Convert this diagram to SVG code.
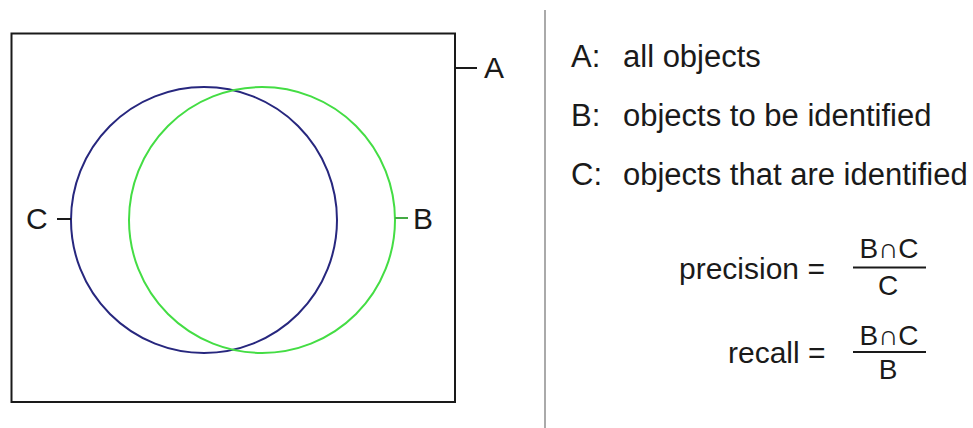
<svg xmlns="http://www.w3.org/2000/svg" width="973" height="428" viewBox="0 0 973 428">
<style>
text{font-family:"Liberation Sans",Arial,sans-serif;fill:#1a1a1a}
.lbl{font-size:30px}
.leg{font-size:31px}
.frac{font-size:28px}
.tick{stroke:#1a1a1a;stroke-width:2;fill:none}
</style>
<rect width="973" height="428" fill="#ffffff"/>
<g id="setA">
<rect x="11.5" y="33.5" width="443.5" height="368.5" fill="none" stroke="#1a1a1a" stroke-width="2"/>
<text class="lbl" x="484" y="78">A</text>
</g>
<g id="setC">
<circle cx="204" cy="220" r="133" fill="none" stroke="#27277e" stroke-width="2"/>
<text class="lbl" x="26" y="229">C</text>
</g>
<g id="setB">
<circle cx="262" cy="220" r="133" fill="none" stroke="#44dd44" stroke-width="2"/>
<text class="lbl" x="413" y="229">B</text>
</g>
<g id="connectors">
<line class="tick" x1="455" y1="68" x2="477" y2="68"/>
<line class="tick" x1="57" y1="219" x2="71" y2="219"/>
<line x1="395" y1="218" x2="408" y2="218" stroke="#44aa44" stroke-width="2"/>
</g>
<g id="divider">
<line x1="545" y1="10" x2="545" y2="428" stroke="#aaaaaa" stroke-width="2"/>
</g>
<g id="legend">
<text class="leg" x="571" y="67">A:</text>
<text class="leg" x="623" y="67">all objects</text>
<text class="leg" x="571" y="126">B:</text>
<text class="leg" x="623" y="126">objects to be identified</text>
<text class="leg" x="571" y="185">C:</text>
<text class="leg" x="623" y="185">objects that are identified</text>
</g>
<g id="precision">
<text class="lbl" x="679" y="279">precision =</text>
<text class="frac" x="889" y="258" text-anchor="middle">B∩C</text>
<line x1="853" y1="267.5" x2="926" y2="267.5" stroke="#1a1a1a" stroke-width="2"/>
<text class="frac" x="888" y="295" text-anchor="middle">C</text>
</g>
<g id="recall">
<text class="lbl" x="728" y="363">recall =</text>
<text class="frac" x="889" y="345" text-anchor="middle">B∩C</text>
<line x1="853" y1="352" x2="926" y2="352" stroke="#1a1a1a" stroke-width="2"/>
<text class="frac" x="888" y="379" text-anchor="middle">B</text>
</g>
</svg>
